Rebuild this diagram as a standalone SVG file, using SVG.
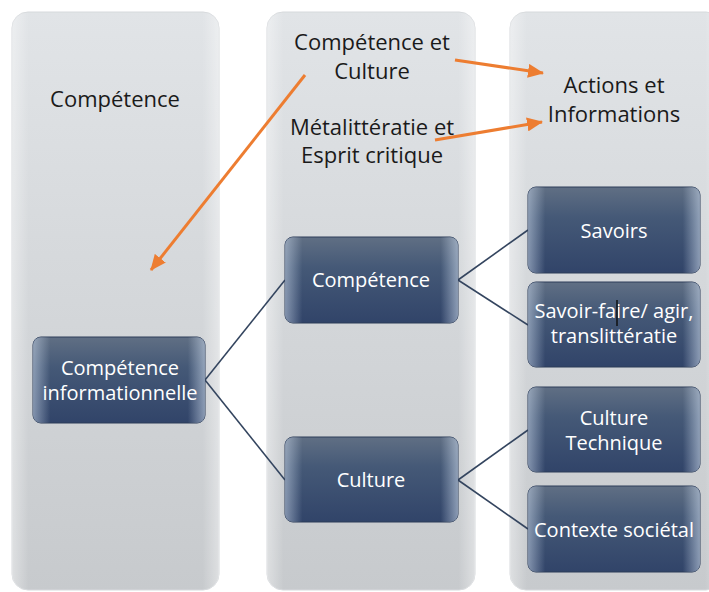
<svg xmlns="http://www.w3.org/2000/svg" width="709" height="592" viewBox="0 0 709 592">
<defs>
<linearGradient id="colg" x1="0" y1="0" x2="0" y2="1">
<stop offset="0" stop-color="#e1e4e7"/>
<stop offset="1" stop-color="#c7cacd"/>
</linearGradient>
<linearGradient id="colEdge" x1="0" y1="0" x2="1" y2="0">
<stop offset="0" stop-color="#ffffff" stop-opacity="0.4"/>
<stop offset="0.08" stop-color="#ffffff" stop-opacity="0"/>
<stop offset="0.92" stop-color="#ffffff" stop-opacity="0"/>
<stop offset="1" stop-color="#ffffff" stop-opacity="0.4"/>
</linearGradient>
<linearGradient id="nodeg" x1="0" y1="0" x2="0" y2="1">
<stop offset="0" stop-color="#606f84"/>
<stop offset="0.35" stop-color="#455977"/>
<stop offset="1" stop-color="#314469"/>
</linearGradient>
<linearGradient id="nodeEdge" x1="0" y1="0" x2="1" y2="0">
<stop offset="0" stop-color="#c6d4e6" stop-opacity="0.55"/>
<stop offset="0.1" stop-color="#c6d4e6" stop-opacity="0"/>
<stop offset="0.9" stop-color="#c6d4e6" stop-opacity="0"/>
<stop offset="1" stop-color="#c6d4e6" stop-opacity="0.6"/>
</linearGradient>
<marker id="oarrow" markerUnits="userSpaceOnUse" markerWidth="16" markerHeight="14" refX="15" refY="7" orient="auto">
<path d="M0,0 L16,7 L0,14 Z" fill="#ed7d31"/>
</marker>
</defs>
<style>
.col{fill:url(#colg);stroke:#d6d9dc;stroke-width:1}
.colhl{fill:url(#colEdge)}
.node{fill:url(#nodeg);stroke:#2c3c58;stroke-width:1}
.nodehl{fill:url(#nodeEdge)}
.lt{font-family:"Open Sans","Noto Sans",sans-serif;font-size:22px;fill:#1a1a1a;text-anchor:middle}
.nt{font-family:"Open Sans","Noto Sans",sans-serif;font-size:20px;fill:#ffffff;text-anchor:middle}
.conn{stroke:#34455f;stroke-width:1.6;fill:none}
.orange{stroke:#ed7d31;stroke-width:3;fill:none;marker-end:url(#oarrow)}
</style>
<rect width="709" height="592" fill="#ffffff"/>
<g id="col1">
<rect class="col" x="12" y="12" width="207" height="578" rx="16"/>
<rect class="colhl" x="12" y="12" width="207" height="578" rx="16"/>
<text class="lt" x="115" y="107">Compétence</text>
</g>
<g id="col2">
<rect class="col" x="267" y="12" width="208" height="578" rx="16"/>
<rect class="colhl" x="267" y="12" width="208" height="578" rx="16"/>
<text class="lt" x="372" y="50">Compétence et</text>
<text class="lt" x="372" y="79">Culture</text>
<text class="lt" x="372" y="135">Métalittératie et</text>
<text class="lt" x="372" y="163">Esprit critique</text>
</g>
<g id="col3">
<rect class="col" x="510" y="12" width="212" height="578" rx="16"/>
<rect class="colhl" x="510" y="12" width="212" height="578" rx="16"/>
<text class="lt" x="614" y="93">Actions et</text>
<text class="lt" x="614" y="122">Informations</text>
</g>
<g id="connectors">
<path class="conn" d="M205,380 L285,280"/>
<path class="conn" d="M205,380 L285,480"/>
<path class="conn" d="M458,280 L528,230"/>
<path class="conn" d="M458,280 L528,325"/>
<path class="conn" d="M458,480 L528,430"/>
<path class="conn" d="M458,480 L528,529"/>
<path class="orange" d="M305,75 L151,270"/>
<path class="orange" d="M455,60 L543,73"/>
<path class="orange" d="M435,140 L542,122"/>
</g>
<g id="n-info">
<rect class="node" x="33" y="337" width="172" height="86" rx="8"/>
<rect class="nodehl" x="33" y="337" width="172" height="86" rx="8"/>
<text class="nt" x="120" y="375">Compétence</text>
<text class="nt" x="120" y="400">informationnelle</text>
</g>
<g id="n-competence">
<rect class="node" x="285" y="237" width="173" height="86" rx="8"/>
<rect class="nodehl" x="285" y="237" width="173" height="86" rx="8"/>
<text class="nt" x="371" y="287">Compétence</text>
</g>
<g id="n-culture">
<rect class="node" x="285" y="437" width="173" height="85" rx="8"/>
<rect class="nodehl" x="285" y="437" width="173" height="85" rx="8"/>
<text class="nt" x="371" y="487">Culture</text>
</g>
<g id="n-savoirs">
<rect class="node" x="528" y="187" width="172" height="86" rx="8"/>
<rect class="nodehl" x="528" y="187" width="172" height="86" rx="8"/>
<text class="nt" x="614" y="238">Savoirs</text>
</g>
<g id="n-savoirfaire">
<rect class="node" x="528" y="282" width="172" height="85" rx="8"/>
<rect class="nodehl" x="528" y="282" width="172" height="85" rx="8"/>
<text class="nt" x="614" y="318">Savoir-faire/ agir,</text>
<text class="nt" x="614" y="343">translittératie</text>
<line x1="617" y1="300" x2="617" y2="326" stroke="#111111" stroke-width="1.5"/>
</g>
<g id="n-culturetech">
<rect class="node" x="528" y="387" width="172" height="85" rx="8"/>
<rect class="nodehl" x="528" y="387" width="172" height="85" rx="8"/>
<text class="nt" x="614" y="425">Culture</text>
<text class="nt" x="614" y="450">Technique</text>
</g>
<g id="n-contexte">
<rect class="node" x="528" y="486" width="172" height="86" rx="8"/>
<rect class="nodehl" x="528" y="486" width="172" height="86" rx="8"/>
<text class="nt" x="614" y="537">Contexte sociétal</text>
</g>
</svg>
